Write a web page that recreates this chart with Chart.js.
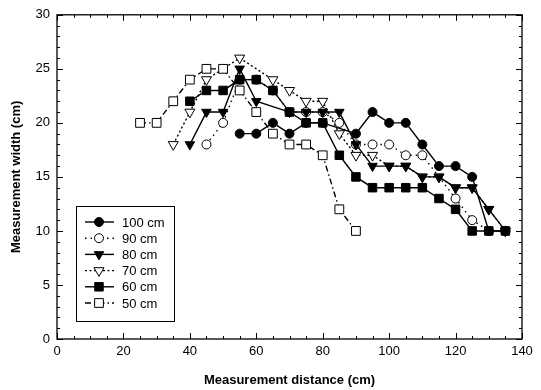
<!DOCTYPE html>
<html>
<head>
<meta charset="utf-8">
<script src="https://cdn.jsdelivr.net/npm/chart.js@4/dist/chart.umd.min.js"></script>
<style>
  html, body { margin: 0; padding: 0; background: #fff; }
  #wrap { position: relative; width: 541px; height: 390px; }
</style>
</head>
<body>
<div id="wrap"><canvas id="widthChart"></canvas></div>
<script>
/* ---------- DATA ---------- */
const seriesLabels = ["100 cm", "90 cm", "80 cm", "70 cm", "60 cm", "50 cm"];

const dist100  = [55, 60, 65, 70, 75, 80, 90, 95, 100, 105, 110, 115, 120, 125, 130, 135];
const width100 = [19, 19, 20, 19, 20, 20, 19, 21, 20, 20, 18, 16, 16, 15, 10, 10];

const dist90  = [45, 50, 55, 60, 65, 70, 75, 80, 85, 90, 95, 100, 105, 110, 120, 125, 130, 135];
const width90 = [18, 20, 24, 24, 23, 21, 21, 21, 20, 18, 18, 18, 17, 17, 13, 11, 10, 10];

const dist80  = [40, 45, 50, 55, 60, 70, 75, 80, 85, 90, 95, 100, 105, 110, 115, 120, 125, 130, 135];
const width80 = [18, 21, 21, 25, 22, 21, 21, 21, 21, 18, 16, 16, 16, 15, 15, 14, 14, 12, 10];

const dist70  = [35, 40, 45, 55, 65, 70, 75, 80, 85, 90, 95, 100, 105, 110, 115, 120, 125, 130, 135];
const width70 = [18, 21, 24, 26, 24, 23, 22, 22, 19, 17, 17, 16, 16, 15, 15, 14, 14, 12, 10];

const dist60  = [40, 45, 50, 55, 60, 65, 70, 75, 80, 85, 90, 95, 100, 105, 110, 115, 120, 125, 130, 135];
const width60 = [22, 23, 23, 24, 24, 23, 21, 20, 20, 17, 15, 14, 14, 14, 14, 13, 12, 10, 10, 10];

const dist50  = [25, 30, 35, 40, 45, 50, 55, 60, 65, 70, 75, 80, 85, 90];
const width50 = [20, 20, 22, 24, 25, 25, 23, 21, 19, 18, 18, 17, 12, 10];

const xTitle = "Measurement distance (cm)";
const yTitle = "Measurement width (cm)";

/* ---------- HELPERS ---------- */
const FONT = "'Liberation Sans', Arial, sans-serif";

function pts(xs, ys) {
    return xs.map((x, i) => ({ x, y: ys[i] }));
}

function series(idx, xs, ys, style) {
    return {
        label: seriesLabels[idx],
        data: pts(xs, ys),
        borderColor: "#000",
        borderWidth: 1.4,
        pointBorderColor: "#000",
        pointBorderWidth: 1,
        tension: 0,
        ...style
    };
}

/* ---------- FRAME + INWARD TICKS ---------- */
const framePlugin = {
    id: "frame",
    afterDraw(chart) {
        const { ctx, chartArea: a, scales: { x, y } } = chart;
        ctx.save();
        ctx.strokeStyle = "#000";
        ctx.lineWidth = 1.3;
        ctx.strokeRect(a.left, a.top, a.right - a.left, a.bottom - a.top);
        ctx.lineWidth = 1;
        ctx.beginPath();
        for (let v = 0; v <= 140; v += 5) {
            const px = Math.round(x.getPixelForValue(v)) + 0.5;
            const len = v % 20 === 0 ? 6 : 3;
            ctx.moveTo(px, a.bottom); ctx.lineTo(px, a.bottom - len);
            ctx.moveTo(px, a.top); ctx.lineTo(px, a.top + len);
        }
        for (let v = 0; v <= 30; v += 1) {
            const py = Math.round(y.getPixelForValue(v)) + 0.5;
            const len = v % 5 === 0 ? 6 : 3;
            ctx.moveTo(a.left, py); ctx.lineTo(a.left + len, py);
            ctx.moveTo(a.right, py); ctx.lineTo(a.right - len, py);
        }
        ctx.stroke();
        ctx.restore();
    }
};

/* ---------- LEGEND BOX INSIDE PLOT ---------- */
const legendPlugin = {
    id: "boxLegend",
    afterDraw(chart) {
        const { ctx } = chart;
        const sets = chart.data.datasets;
        const box = { x: 76, y: 206, w: 98, h: 115 };
        ctx.save();
        ctx.fillStyle = "#fff";
        ctx.fillRect(box.x, box.y, box.w, box.h);
        ctx.strokeStyle = "#000";
        ctx.lineWidth = 1;
        ctx.strokeRect(box.x + 0.5, box.y + 0.5, box.w, box.h);

        sets.forEach((ds, i) => {
            const cy = box.y + 16 + i * 16.2;
            const x0 = box.x + 9, x1 = box.x + 38, mx = box.x + 23;
            ctx.strokeStyle = "#000";
            ctx.lineWidth = ds.borderWidth;
            ctx.setLineDash(ds.borderDash || []);
            ctx.beginPath();
            ctx.moveTo(x0, cy); ctx.lineTo(x1, cy);
            ctx.stroke();
            ctx.setLineDash([]);
            ctx.fillStyle = ds.pointBackgroundColor;
            ctx.lineWidth = 1;
            Chart.helpers.drawPoint(ctx, {
                pointStyle: ds.pointStyle,
                radius: ds.pointRadius,
                rotation: ds.pointRotation || 0,
                borderWidth: 1
            }, mx, cy);
            ctx.fillStyle = "#000";
            ctx.font = "13px " + FONT;
            ctx.textBaseline = "middle";
            ctx.fillText(ds.label, box.x + 46, cy + 1);
        });
        ctx.restore();
    }
};

/* ---------- CHART ---------- */
const datasets = [
    series(0, dist100, width100, { pointStyle: "circle", pointRadius: 4.5, pointBackgroundColor: "#000", order: 0 }),
    series(1, dist90, width90, { pointStyle: "circle", pointRadius: 4.5, pointBackgroundColor: "#fff", borderDash: [1.5, 4], order: 5 }),
    series(2, dist80, width80, { pointStyle: "triangle", pointRotation: 180, pointRadius: 5.5, pointBackgroundColor: "#000", order: 1 }),
    series(3, dist70, width70, { pointStyle: "triangle", pointRotation: 180, pointRadius: 5.8, pointBackgroundColor: "#fff", borderDash: [2, 2.5], order: 4 }),
    series(4, dist60, width60, { pointStyle: "rect", pointRadius: 6, pointBackgroundColor: "#000", order: 2 }),
    series(5, dist50, width50, { pointStyle: "rect", pointRadius: 6.2, pointBackgroundColor: "#fff", borderDash: [6, 3, 1.5, 3], order: 3 })
];

new Chart(document.getElementById("widthChart"), {
    type: "line",
    data: { datasets },
    options: {
        responsive: true,
        maintainAspectRatio: false,
        animation: false,
        layout: { padding: { left: 0, top: 13, right: 19, bottom: 0 } },
        plugins: {
            legend: { display: false },
            tooltip: { enabled: false }
        },
        scales: {
            x: {
                type: "linear",
                min: 0,
                max: 140,
                grid: { display: false, drawTicks: false },
                border: { display: false },
                ticks: { stepSize: 20, padding: 5, color: "#000", font: { family: FONT, size: 13 } },
                title: {
                    display: true, text: xTitle, color: "#000",
                    font: { family: FONT, size: 13, weight: "bold" },
                    padding: { top: 2, bottom: 2 }
                },
                afterFit: s => { s.height = 51; }
            },
            y: {
                type: "linear",
                min: 0,
                max: 30,
                grid: { display: false, drawTicks: false },
                border: { display: false },
                ticks: { stepSize: 5, padding: 7, color: "#000", font: { family: FONT, size: 13 } },
                title: {
                    display: true, text: yTitle, color: "#000",
                    font: { family: FONT, size: 13, weight: "bold" },
                    padding: { top: 9, bottom: 9 }
                },
                afterFit: s => { s.width = 57; }
            }
        }
    },
    plugins: [framePlugin, legendPlugin]
});
</script>
</body>
</html>
